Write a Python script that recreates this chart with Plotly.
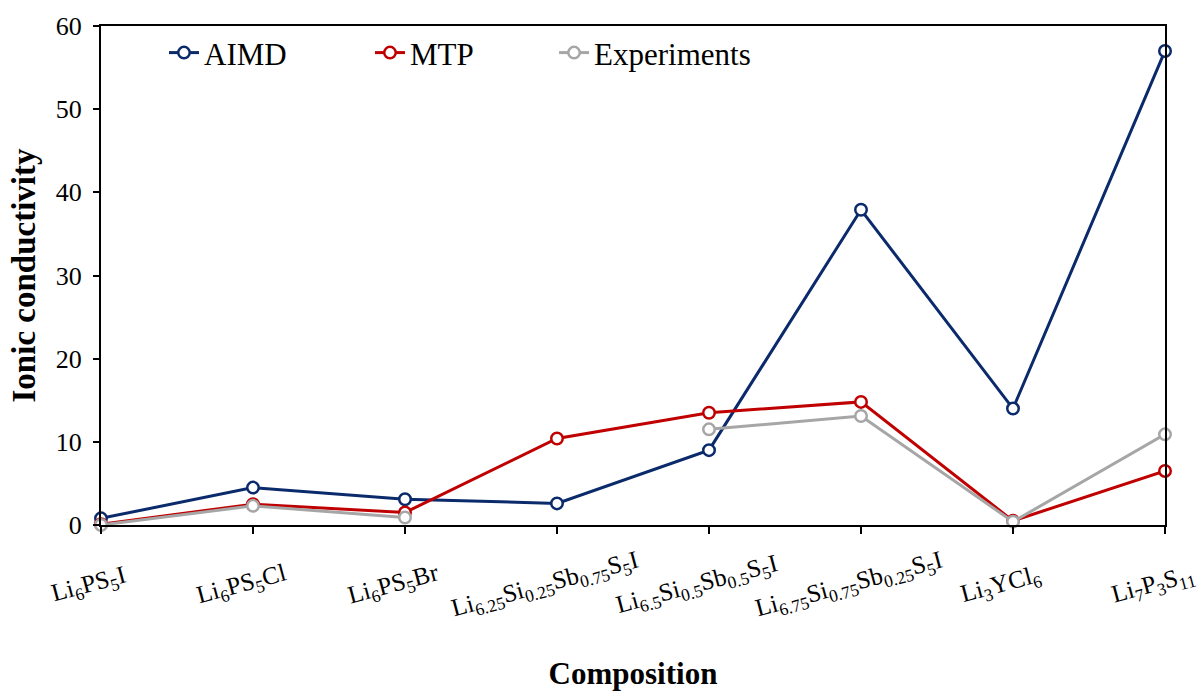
import plotly.graph_objects as go

# Compositions (subscripts via <sub>)
compositions = [
    "Li<sub>6</sub>PS<sub>5</sub>I",
    "Li<sub>6</sub>PS<sub>5</sub>Cl",
    "Li<sub>6</sub>PS<sub>5</sub>Br",
    "Li<sub>6.25</sub>Si<sub>0.25</sub>Sb<sub>0.75</sub>S<sub>5</sub>I",
    "Li<sub>6.5</sub>Si<sub>0.5</sub>Sb<sub>0.5</sub>S<sub>5</sub>I",
    "Li<sub>6.75</sub>Si<sub>0.75</sub>Sb<sub>0.25</sub>S<sub>5</sub>I",
    "Li<sub>3</sub>YCl<sub>6</sub>",
    "Li<sub>7</sub>P<sub>3</sub>S<sub>11</sub>",
]

aimd = [0.8, 4.5, 3.1, 2.6, 9.0, 37.9, 14.0, 57.0]
mtp = [0.1, 2.5, 1.5, 10.4, 13.5, 14.8, 0.5, 6.5]
experiments = [0.0, 2.3, 0.9, None, 11.5, 13.1, 0.4, 10.9]

y_ticks = [0, 10, 20, 30, 40, 50, 60]

series = [
    ("AIMD", aimd, "#0a2a6b", "legend", 0.0592),
    ("MTP", mtp, "#c00000", "legend2", 0.2528),
    ("Experiments", experiments, "#a6a6a6", "legend3", 0.4258),
]

idx = list(range(len(compositions)))
font_family = "Liberation Serif, Times New Roman, serif"

fig = go.Figure()
legend_layouts = {}
for name, vals, color, leg, leg_x in series:
    fig.add_trace(go.Scatter(
        x=idx, y=vals, name=name, mode="lines+markers",
        connectgaps=False, legend=leg,
        line=dict(color=color, width=3),
        marker=dict(symbol="circle", size=11.5, color="white",
                    line=dict(color=color, width=2.5)),
        cliponaxis=False,
    ))
    legend_layouts[leg] = dict(
        x=leg_x, y=0.946, xanchor="left", yanchor="middle",
        orientation="h", bgcolor="rgba(0,0,0,0)",
        font=dict(family=font_family, size=31, color="black"),
    )

# Rotated category labels under each tick
for i, label in enumerate(compositions):
    fig.add_annotation(
        x=i, xref="x", y=0, yref="paper",
        text=label, showarrow=False, textangle=-15,
        xanchor="center", yanchor="middle", xshift=-12, yshift=-60,
        font=dict(family=font_family, size=25, color="black"),
    )

fig.update_layout(
    width=1203, height=695,
    margin=dict(l=101, r=38, t=21, b=167),
    paper_bgcolor="white", plot_bgcolor="white",
    font=dict(family=font_family, color="black", size=22),
    showlegend=True,
    **legend_layouts,
    xaxis=dict(
        range=[0, 7], tickmode="array", tickvals=idx, showticklabels=False,
        ticks="outside", ticklen=7, tickwidth=2,
        tickcolor="black", showline=True, linecolor="black", linewidth=2,
        mirror=True, showgrid=False, zeroline=False,
        title=dict(text="<b>Composition</b>", standoff=129,
                   font=dict(family=font_family, size=31, color="black")),
    ),
    yaxis=dict(
        range=[0, 60], tickvals=y_ticks,
        ticks="outside", ticklen=6, tickwidth=2, tickcolor="black",
        ticklabelstandoff=6,
        showline=True, linecolor="black", linewidth=2, mirror=True,
        showgrid=False, zeroline=False,
        tickfont=dict(family=font_family, size=26, color="black"),
        title=dict(text="<b>Ionic conductivity</b>", standoff=10,
                   font=dict(family=font_family, size=33, color="black")),
    ),
)

fig.write_html("out.html")
